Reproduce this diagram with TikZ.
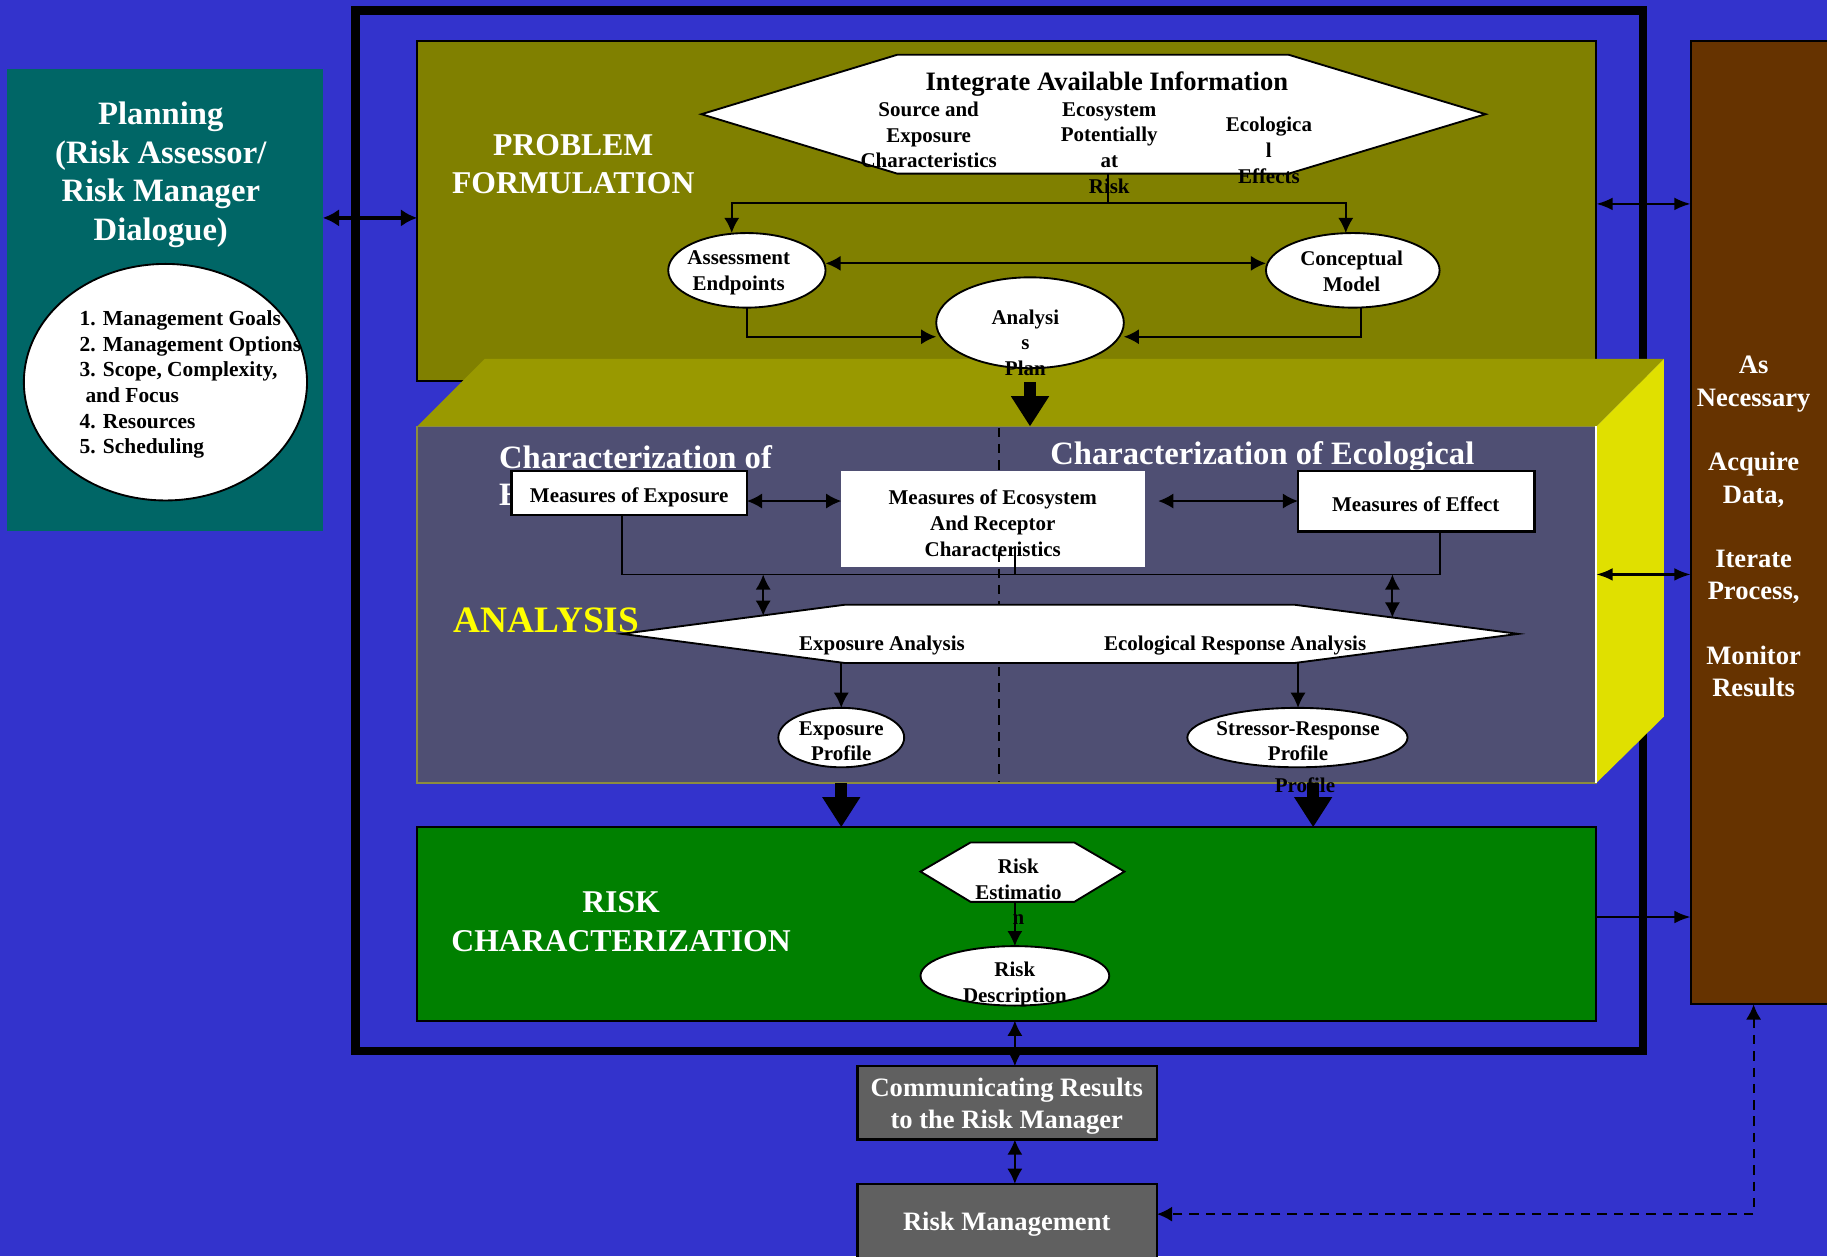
\documentclass[tikz,border=0pt]{standalone}
\usepackage{fontspec}
\setmainfont{Liberation Serif}
\usetikzlibrary{shapes.geometric,arrows.meta,calc}
\definecolor{cBg}{HTML}{3333CC}
\definecolor{cTeal}{HTML}{006666}
\definecolor{cOlive}{HTML}{808000}
\definecolor{cTop}{HTML}{999900}
\definecolor{cSide}{HTML}{E0E000}
\definecolor{cSlate}{HTML}{4F4F73}
\definecolor{cKhaki}{HTML}{8C8C3F}
\definecolor{cGreen}{HTML}{008000}
\definecolor{cGray}{HTML}{606060}
\definecolor{cBrown}{HTML}{663300}
\definecolor{cYel}{HTML}{FFFF00}
\newcommand\myfs[2]{\fontsize{#1}{#2}\selectfont\bfseries}
\begin{document}
\begin{tikzpicture}[x=0.5pt,y=-0.5pt,
  box/.style={anchor=north west, inner sep=0pt, outer sep=0pt},
  ell/.style={ellipse, draw=black, fill=white, line width=0.8pt, inner sep=0pt, outer sep=0pt},
  hexs/.style={draw=black, fill=white, line width=0.8pt},
  wtitle/.style={text=white, font=\myfs{14}{16.5}, align=center, inner sep=0pt},
  lbl/.style={text=black, font=\myfs{9}{11}, align=center, inner sep=0pt},
  ln/.style={line width=0.8pt},
  arr/.style={ln, -{Latex[length=6.5pt,width=6.5pt]}},
  darr/.style={ln, {Latex[length=6.5pt,width=6.5pt]}-{Latex[length=6.5pt,width=6.5pt]}},
  rarr/.style={line width=1pt, -{Latex[length=7pt,width=5.5pt]}},
  rdarr/.style={line width=1pt, {Latex[length=7pt,width=5.5pt]}-{Latex[length=7pt,width=5.5pt]}},
  bigarr/.style={line width=5pt, -{Triangle[length=13pt,width=15.5pt]}},
]
\useasboundingbox (0,0) rectangle (1568,1078);
\clip (0,0) rectangle (1568,1078);
\fill[cBg] (0,0) rectangle (1568,1078);

% ---------- Planning ----------
\node[box, fill=cTeal, minimum width=135.5pt, minimum height=198.5pt] (plan) at (6,59) {};
\node[wtitle] (plantitle) at (138,150) {Planning\\(Risk Assessor/\\Risk Manager\\Dialogue)};
\node[ell, minimum width=121.5pt, minimum height=101.5pt] (planell) at (142,328) {};
\node[lbl, font=\myfs{9.2}{11}, align=left, anchor=west] (planlist) at (68,330)
  {1. Management Goals\\2. Management Options\\3. Scope, Complexity,\\\hspace*{2.5pt}and Focus\\4. Resources\\5. Scheduling};

% ---------- outer frame ----------
\draw[line width=3.6pt] (305,9) rectangle (1410,902);

% ---------- Problem formulation ----------
\node[box, fill=cOlive, draw=black, line width=1pt, minimum width=506pt, minimum height=146pt] (pf) at (358,35) {};
\node[wtitle, font=\myfs{13.6}{16.5}] (pftitle) at (492,141) {PROBLEM\\FORMULATION};
\draw[hexs] (602,98) -- (770,47) -- (1106,47) -- (1275,98) -- (1106,149) -- (770,149) -- cycle;
\coordinate (ihb) at (951,149);
\coordinate (ihj) at (951,174);
\node[lbl, font=\myfs{11.4}{13}] (iai) at (950,72) {Integrate Available Information};
\node[lbl] (src) at (797,116) {Source and\\Exposure\\Characteristics};
\node[lbl] (ecor) at (952,127) {Ecosystem\\Potentially\\at\\Risk};
\node[lbl] (ecof) at (1089,129) {Ecologica\\l\\Effects};

\node[ell, minimum width=67.5pt, minimum height=32pt] (ae) at (641,232) {};
\node[lbl] (aet) at (634,234) {Assessment\\Endpoints};
\node[ell, minimum width=74.5pt, minimum height=32pt] (cm) at (1161,232) {};
\node[lbl] (cmt) at (1160,233) {Conceptual\\Model};

\draw[ln] (ihb) -- (ihj);
\draw[arr] (ihj) -| (ae.north -| 628,0);
\draw[arr] (ihj) -| (cm.north -| 1155,0);
\draw[darr] ([yshift=3pt]ae.east) -- ([yshift=3pt]cm.west);

% ---------- Analysis 3D box ----------
\fill[cTop] (358,366) -- (416,308) -- (1428,308) -- (1370,366) -- cycle;
\fill[cSide] (1370,366) -- (1428,308) -- (1428,615) -- (1370,672) -- cycle;
\node[box, fill=cSlate, draw=cKhaki, line width=0.8pt, minimum width=506pt, minimum height=153pt] (ana) at (358,366) {};
\draw[white, line width=1pt] (ana.north east) -- (ana.south east);

% Analysis plan
\node[ell, minimum width=80.5pt, minimum height=39pt] (ap) at (884,277) {};
\node[lbl] (apt) at (880,294) {Analysi\\s\\Plan};
\draw[arr] (ae.south) |- ([yshift=-6pt]ap.west);
\draw[arr] ([xshift=3.5pt]cm.south) |- ([yshift=-6pt]ap.east);
\draw[bigarr] ([yshift=-6pt]ap.south) -- (ap.south |- ana.north);

% divider
\draw[ln, dash pattern=on 4pt off 3pt] (857,367) -- (857,404);
\draw[ln, dash pattern=on 4pt off 3pt] (857,474) -- (857,671);

\node[wtitle, anchor=west] (chexp) at (428,392) {Characterization of};
\begin{scope}
  \clip (420,405) rectangle (439,445);
  \node[wtitle, anchor=west] (chexp2) at (428,425) {E};
\end{scope}
\node[wtitle, anchor=west] (checo) at (901,392) {Characterization of Ecological};

\node[box, fill=white, draw=black, line width=1pt, minimum width=101pt, minimum height=19pt] (mexp) at (439,404) {};
\node[lbl] (mexpt) at (540,427) {Measures of Exposure};
\node[box, fill=white, minimum width=130.5pt, minimum height=41.5pt] (meco) at (722,404) {};
\node[lbl] (mecot) at (852,449) {Measures of Ecosystem\\And Receptor\\Characteristics};
\node[box, fill=white, draw=black, line width=1pt, minimum width=101.5pt, minimum height=26pt] (meff) at (1114,404) {};
\node[lbl] (mefft) at (1215,433) {Measures of Effect};
\draw[ln, dash pattern=on 4pt off 3pt] (857,474) -- (857,487);

\draw[darr] (mexp.east |- 0,430) -- (meco.west |- 0,430);
\draw[darr] ($(meco.east |- 0,430)+(11,0)$) -- (meff.west |- 0,430);
\draw[ln] (mexp.south -| 534,0) -- (534,493) -- (1236,493) -- (meff.south -| 1236,0);
\draw[ln] (871,470) -- (871,493);

\node[text=cYel, font=\myfs{16}{18}, inner sep=0pt] (anal) at (469,532) {ANALYSIS};

\draw[darr] (655,493) -- (655,528.5);
\draw[darr] (1195,493) -- (1195,530);
\draw[hexs] (534,544) -- (725,519) -- (1111,519) -- (1303,544) -- (1111,569) -- (725,569) -- cycle;
\node[lbl] (expa) at (757,554) {Exposure Analysis};
\node[lbl] (ecora) at (1060,554) {Ecological Response Analysis};

\node[ell, minimum width=54pt, minimum height=25.5pt] (ep) at (722,633) {};
\node[lbl] (ept) at (722,636) {Exposure\\Profile};
\node[ell, minimum width=94.5pt, minimum height=25.5pt] (sr) at (1113.5,633) {};
\node[lbl] (srt) at (1114,636) {Stressor-Response\\Profile};
\draw[arr] (722,569) -- (ep.north);
\draw[arr] (1114,569) -- (sr.north -| 1114,0);

% ---------- Risk characterization ----------
\node[box, fill=cGreen, draw=black, line width=1pt, minimum width=506pt, minimum height=83pt] (rc) at (358,710) {};
\draw[bigarr] (ep.south |- ana.south) -- (ep.south |- rc.north);
\draw[bigarr] (1127,0 |- ana.south) -- (1127,0 |- rc.north);
\node[lbl] (stray) at (1120,674) {Profile};

\node[wtitle, font=\myfs{13.6}{16.5}] (rct) at (533,791) {RISK\\CHARACTERIZATION};
\draw[hexs] (790,748) -- (833,723) -- (922,723) -- (965,748) -- (922,774) -- (833,774) -- cycle;
\coordinate (reb) at (871,774);
\node[ell, minimum width=81pt, minimum height=25.5pt] (rd) at (871,837.5) {};
\draw[arr] (reb) -- (rd.north);
\node[lbl] (ret) at (874,765.5) {Risk\\Estimatio\\n};
\node[lbl] (rdt) at (871,845) {Risk\\Description};

% ---------- bottom boxes ----------
\node[box, fill=cGray, draw=black, line width=1pt, minimum width=128.5pt, minimum height=31.5pt] (cr) at (736,915) {};
\node[text=white, font=\myfs{11.4}{14}, align=center, inner sep=0pt] (crt) at (864,949.5) {Communicating Results\\to the Risk Manager};
\node[box, fill=cGray, draw=black, line width=1pt, minimum width=128.5pt, minimum height=37pt] (rm) at (736,1016) {};
\node[text=white, font=\myfs{11.4}{14}, inner sep=0pt] (rmt) at (864,1051) {Risk Management};
\draw[darr] (rd.south |- rc.south) -- (rd.south |- cr.north);
\draw[darr] (rd.south |- cr.south) -- (rd.south |- rm.north);

% ---------- brown box ----------
\node[box, fill=cBrown, draw=black, line width=0.8pt, minimum width=80pt, minimum height=413.5pt] (brown) at (1451,35) {};
\node[text=white, font=\myfs{11.4}{14}, align=center, inner sep=0pt] (brt) at (1505,452)
  {As\\Necessary\\[13.5pt]Acquire\\Data,\\[13.5pt]Iterate\\Process,\\[13.5pt]Monitor\\Results};

\draw[rdarr] (pf.east |- 0,175) -- (brown.west |- 0,175);
\draw[rdarr] (ana.east |- 0,493) -- (brown.west |- 0,493);
\draw[rarr] (rc.east |- 0,787) -- (brown.west |- 0,787);
\draw[line width=1.5pt, {Latex[length=7pt,width=7.5pt]}-{Latex[length=7pt,width=7.5pt]}] (plan.east |- 0,187) -- (pf.west |- 0,187);
\draw[darr, dash pattern=on 4pt off 3pt] (1505,0 |- brown.south) -- (1505,1042) -- (rm.east |- 0,1042);
\end{tikzpicture}
\end{document}
